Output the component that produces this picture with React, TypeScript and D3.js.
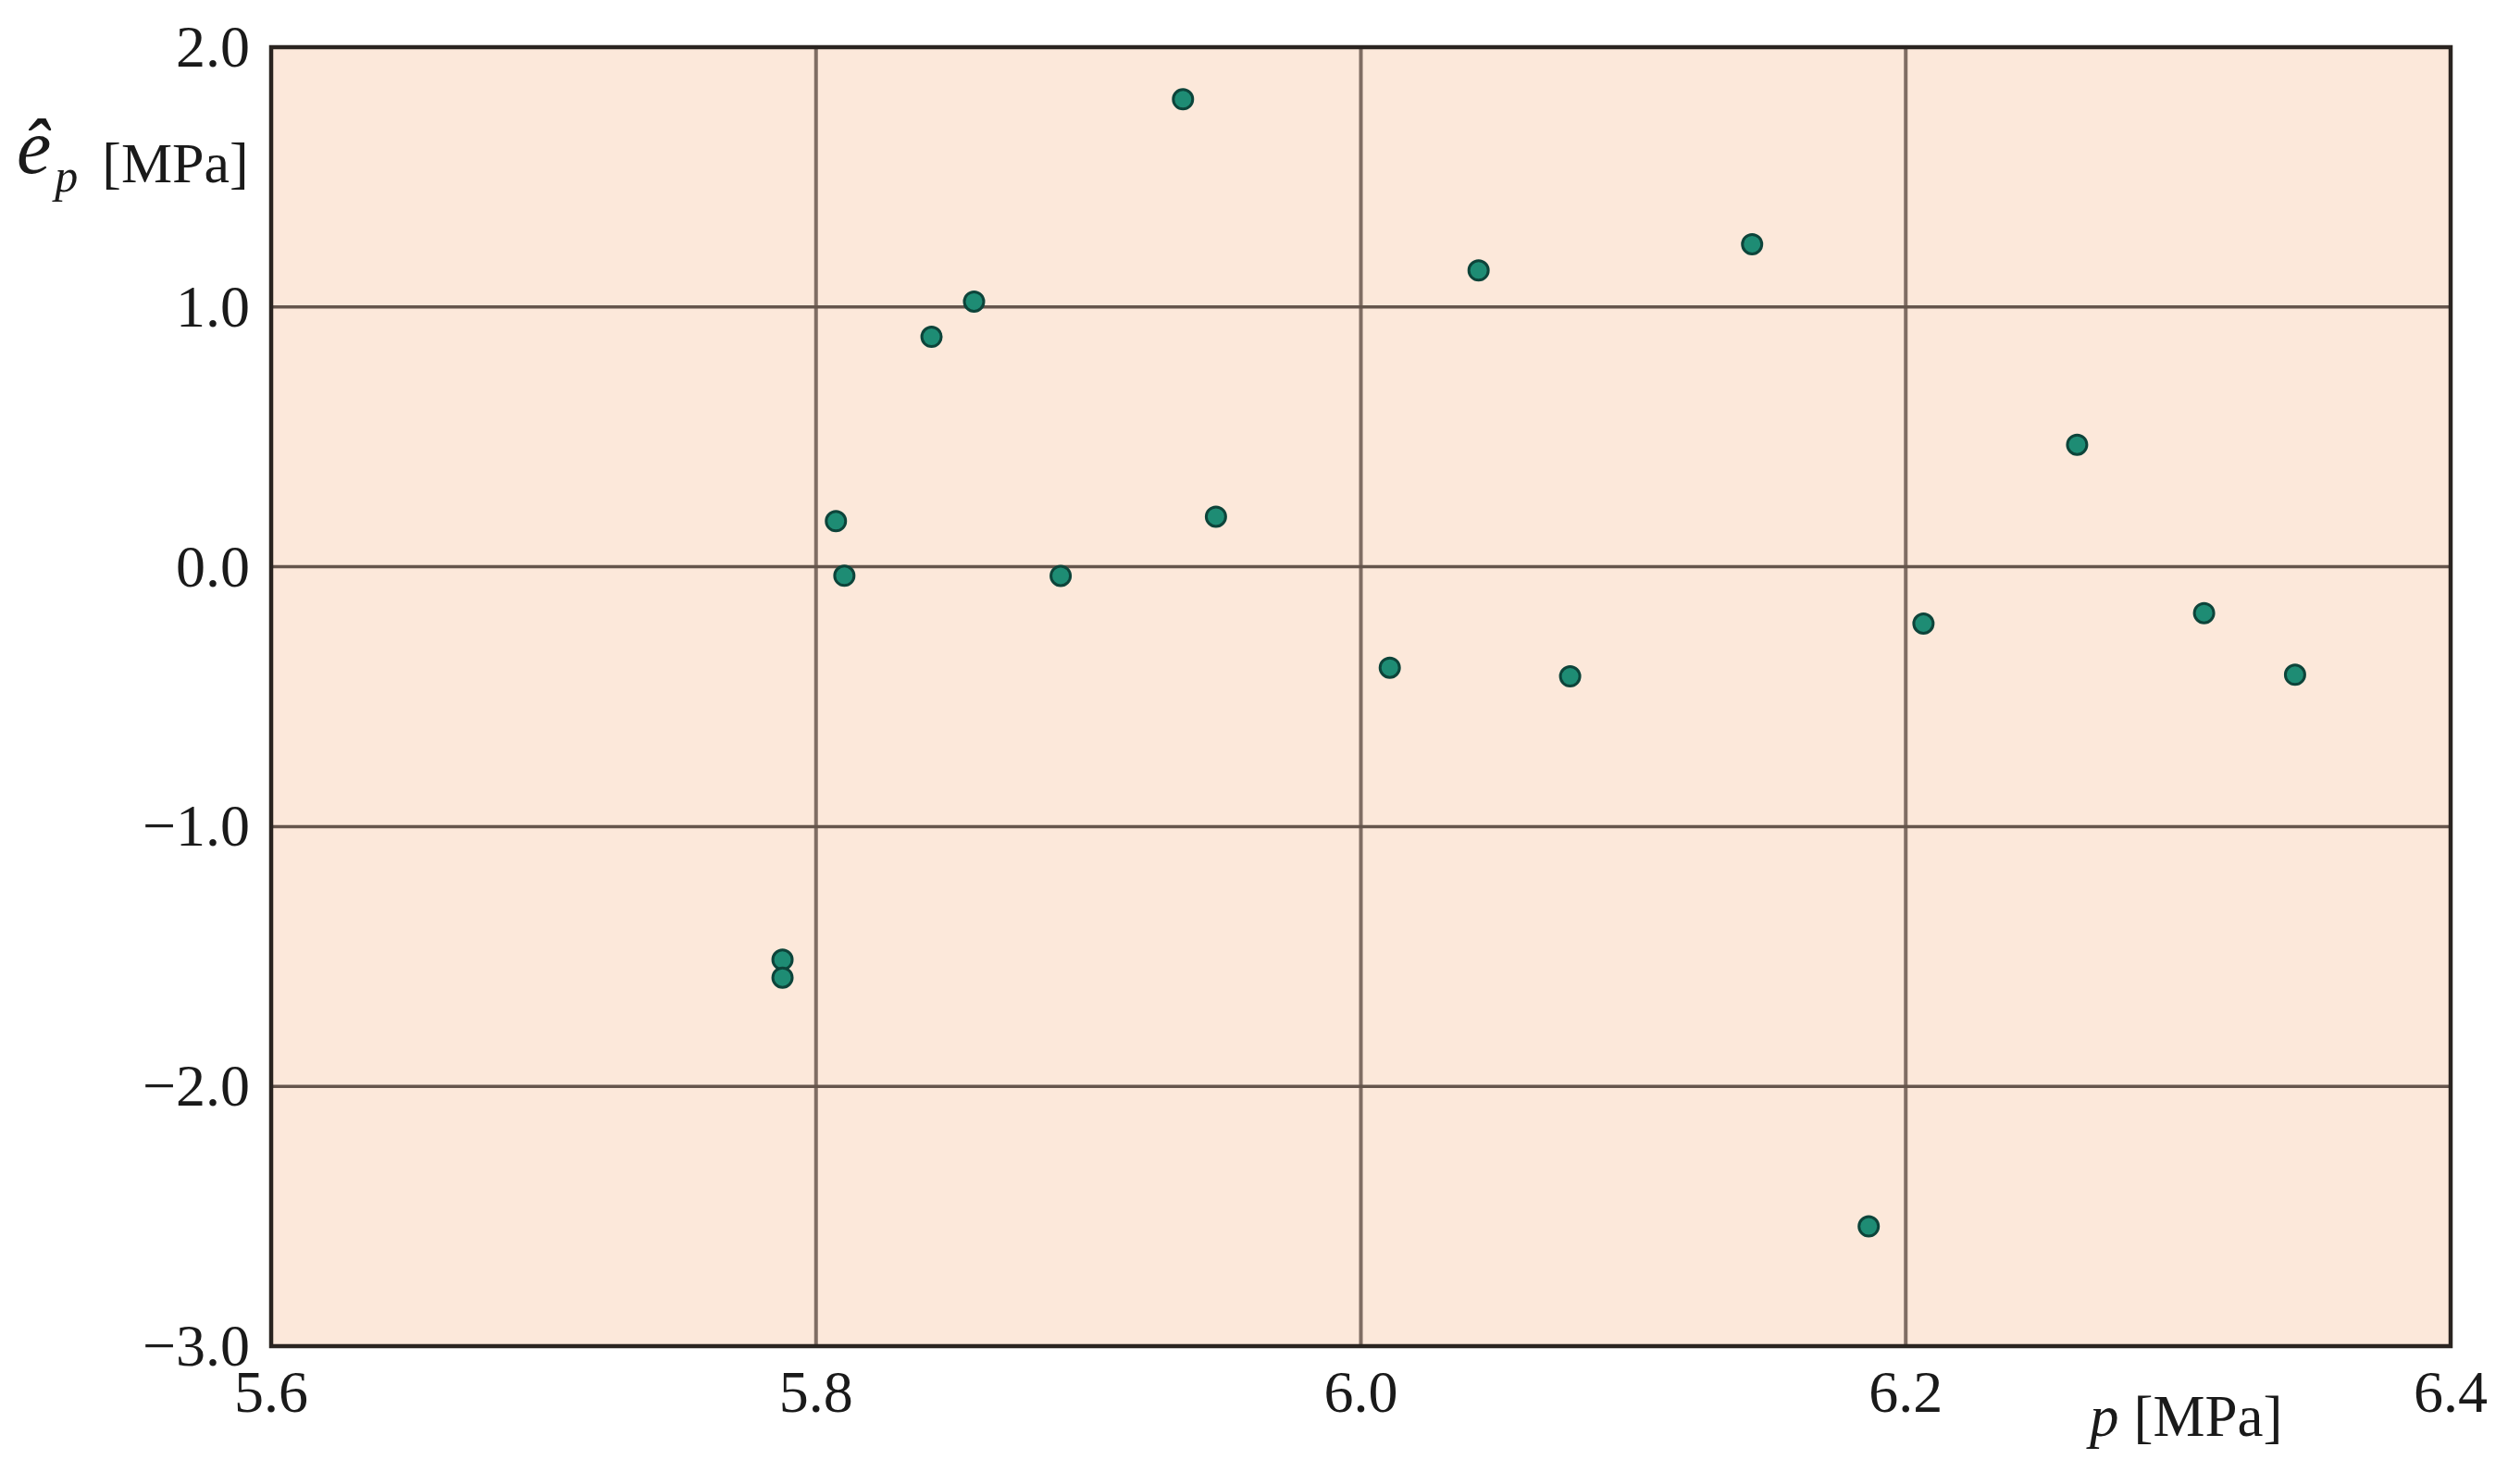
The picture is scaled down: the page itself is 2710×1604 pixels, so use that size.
import React from "react";
import * as d3 from "d3";

const pressure = [5.7877, 5.7877, 5.8073, 5.8104, 5.8424, 5.858, 5.8898, 5.9347, 5.9468, 6.0106, 6.0432, 6.0768, 6.1436, 6.1864, 6.2065, 6.2629, 6.3095, 6.3429];
const residual = [-1.5125, -1.5815, 0.1755, -0.0346, 0.885, 1.021, -0.035, 1.7995, 0.193, -0.3885, 1.1406, -0.4217, 1.2415, -2.539, -0.2187, 0.4698, -0.1784, -0.4156];
const xTicks = [5.6, 5.8, 6.0, 6.2, 6.4];
const yTicks = [2, 1, 0, -1, -2, -3];
const xGrid = [5.8, 6.0, 6.2];
const yGrid = [1, 0, -1, -2];

const W = 2710, H = 1604;
const left = 293, right = 2648, top = 51, bottom = 1455;
const FONT = "'Liberation Serif', 'Times New Roman', serif";

export default function App() {
  const x = d3.scaleLinear().domain([5.6, 6.4]).range([left, right]);
  const y = d3.scaleLinear().domain([-3, 2]).range([bottom, top]);
  const fmt = (v: number) => (v < 0 ? "\u2212" : "") + d3.format(".1f")(Math.abs(v));
  const pts = pressure.map((p, i) => ({ p, e: residual[i] }));
  return (
    <svg width={W} height={H} style={{ position: "absolute", left: 0, top: 0, background: "#ffffff" }} fontFamily={FONT}>
      <rect x={left} y={top} width={right - left} height={bottom - top} fill="#fce8da" />
      {xGrid.map((v) => (
        <line key={"gx" + v} x1={x(v)} x2={x(v)} y1={top} y2={bottom} stroke="#7f6d63" strokeWidth={4} />
      ))}
      {yGrid.map((v) => (
        <line key={"gy" + v} x1={left} x2={right} y1={y(v)} y2={y(v)} stroke="#65554c" strokeWidth={3.5} />
      ))}
      <rect x={left} y={top} width={right - left} height={bottom - top} fill="none" stroke="#2a2420" strokeWidth={4.5} />
      {pts.map((d, i) => (
        <circle key={i} cx={x(d.p)} cy={y(d.e)} r={10.5} fill="#1e8c74" stroke="#0d443a" strokeWidth={3} />
      ))}
      {yTicks.map((v) => (
        <text key={"ty" + v} x={270} y={y(v) + 21} textAnchor="end" fontSize={64} fill="#1a1a1a">
          {fmt(v)}
        </text>
      ))}
      {xTicks.map((v) => (
        <text key={"tx" + v} x={x(v)} y={1526} textAnchor="middle" fontSize={64} fill="#1a1a1a">
          {fmt(v)}
        </text>
      ))}
      <text x={18} y={187} fill="#1a1a1a">
        <tspan fontStyle="italic" fontSize={84}>ê</tspan>
        <tspan fontStyle="italic" fontSize={50} dy={20} dx={4}>p</tspan>
        <tspan fontSize={62} dy={-10} dx={26}>[MPa]</tspan>
      </text>
      <text x={2258} y={1552} fill="#1a1a1a" fontSize={63}>
        <tspan fontStyle="italic">p</tspan>
        <tspan dx={16}>[MPa]</tspan>
      </text>
    </svg>
  );
}
